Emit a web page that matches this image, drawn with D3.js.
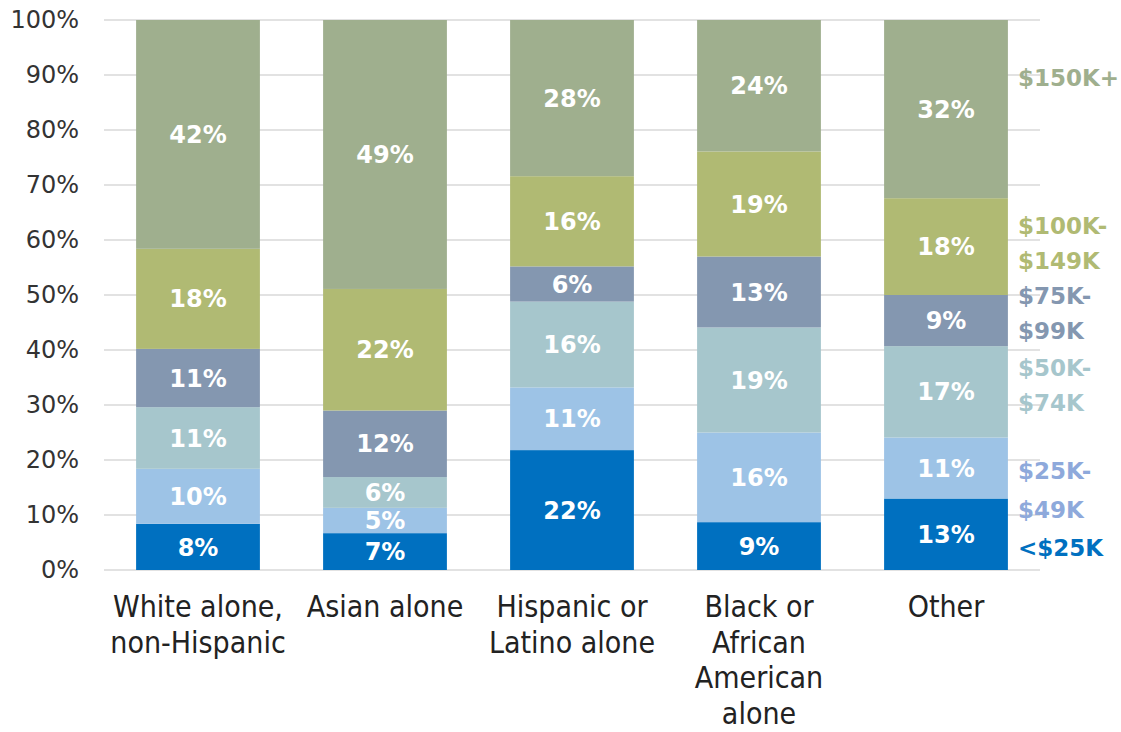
<!DOCTYPE html>
<html>
<head>
<meta charset="utf-8">
<script src="https://cdn.jsdelivr.net/npm/d3@7"></script>
<style>
  html, body { margin: 0; padding: 0; background: #fff; }
  svg { display: block; }
</style>
</head>
<body>
<svg id="chart" width="1121" height="732"></svg>
<script>
// ---- data ----
const categories = [
  ["White alone,", "non-Hispanic"],
  ["Asian alone"],
  ["Hispanic or", "Latino alone"],
  ["Black or", "African", "American", "alone"],
  ["Other"]
];
const seriesNames = ["<$25K", "$25K-$49K", "$50K-$74K", "$75K-$99K", "$100K-$149K", "$150K+"];
const under25 = [8.4, 6.7, 21.8, 8.7, 13.0];
const k25to49 = [10.0, 4.6, 11.4, 16.3, 11.1];
const k50to74 = [11.2, 5.6, 15.6, 19.1, 16.6];
const k75to99 = [10.6, 12.1, 6.4, 12.9, 9.3];
const k100to149 = [18.2, 22.1, 16.4, 19.1, 17.6];
const k150plus = [41.6, 48.9, 28.4, 23.9, 32.4];
const yTicks = [0, 10, 20, 30, 40, 50, 60, 70, 80, 90, 100];
const legendLabels = [
  ["<$25K"], ["$25K-", "$49K"], ["$50K-", "$74K"], ["$75K-", "$99K"], ["$100K-", "$149K"], ["$150K+"]
];

// ---- styles ----
const barColors = ["#0070C0", "#9DC3E6", "#A6C6CC", "#8497B0", "#B0BA73", "#9FAF8E"];
const legendColors = ["#0070C0", "#8EA9DB", "#A6C6CC", "#8497B0", "#B0BA73", "#9FAF8E"];
const legendY = [[548], [471, 510], [368, 403], [296, 331], [226, 261], [78]];

const series = [under25, k25to49, k50to74, k75to99, k100to149, k150plus];
const rows = categories.map((c, i) => {
  const r = { idx: i };
  seriesNames.forEach((s, j) => r[s] = series[j][i]);
  return r;
});

const svg = d3.select("#chart");
const x = d3.scaleBand().domain(d3.range(categories.length)).range([104.5, 1039.5]).paddingInner(0.338).paddingOuter(0.169);
const y = d3.scaleLinear().domain([0, 100]).range([570, 20]);

// gridlines
svg.append("g").selectAll("line").data(yTicks).join("line")
  .attr("x1", 104).attr("x2", 1040)
  .attr("y1", d => y(d)).attr("y2", d => y(d))
  .attr("stroke", "#D9D9D9").attr("stroke-width", 1.5);

// y axis
const yAxis = d3.axisLeft(y).tickValues(yTicks).tickFormat(d => d + "%").tickSize(0).tickPadding(0);
const yg = svg.append("g").attr("transform", "translate(79,0)").call(yAxis);
yg.select(".domain").remove();
yg.selectAll("text").attr("font-family", "DejaVu Sans, sans-serif").attr("font-size", 24)
  .attr("fill", "#333");

// stacks
const stack = d3.stack().keys(seriesNames)(rows);
const layers = svg.append("g").selectAll("g").data(stack).join("g")
  .attr("fill", (d, i) => barColors[i]);
layers.selectAll("rect").data(d => d).join("rect")
  .attr("x", d => x(d.data.idx))
  .attr("width", x.bandwidth())
  .attr("y", d => y(d[1]))
  .attr("height", d => y(d[0]) - y(d[1]));

// value labels
const lab = svg.append("g").selectAll("g").data(stack).join("g");
lab.selectAll("text").data(d => d.map(v => ({ v, key: d.key }))).join("text")
  .attr("x", d => x(d.v.data.idx) + x.bandwidth() / 2)
  .attr("y", d => (y(d.v[0]) + y(d.v[1])) / 2)
  .attr("dy", "0.36em")
  .attr("text-anchor", "middle")
  .attr("font-family", "DejaVu Sans, sans-serif")
  .attr("font-weight", "bold")
  .attr("font-size", 24)
  .attr("fill", "#fff")
  .text(d => Math.round(d.v[1] - d.v[0]) + "%");

// x axis labels
const xAxis = d3.axisBottom(x).tickSize(0).tickFormat(() => "");
const xg = svg.append("g").attr("transform", "translate(0,570)").call(xAxis);
xg.select(".domain").remove();
categories.forEach((lines, i) => {
  const cx = x(i) + x.bandwidth() / 2;
  const t = svg.append("text")
    .attr("x", cx)
    .attr("y", 617)
    .attr("text-anchor", "middle")
    .attr("font-family", "DejaVu Sans Condensed, DejaVu Sans, sans-serif")
    .attr("font-stretch", "condensed")
    .attr("font-size", 30)
    .attr("fill", "#222");
  lines.forEach((l, k) => t.append("tspan").attr("x", cx).attr("dy", k === 0 ? 0 : 35.5).text(l));
});

// legend labels
legendLabels.forEach((lines, i) => {
  lines.forEach((l, k) => {
    svg.append("text")
      .attr("x", 1018)
      .attr("y", legendY[i][k])
      .attr("dy", "0.36em")
      .attr("font-family", "DejaVu Sans, sans-serif")
      .attr("font-weight", "bold")
      .attr("font-size", 23)
      .attr("fill", legendColors[i])
      .text(l);
  });
});
</script>
</body>
</html>
